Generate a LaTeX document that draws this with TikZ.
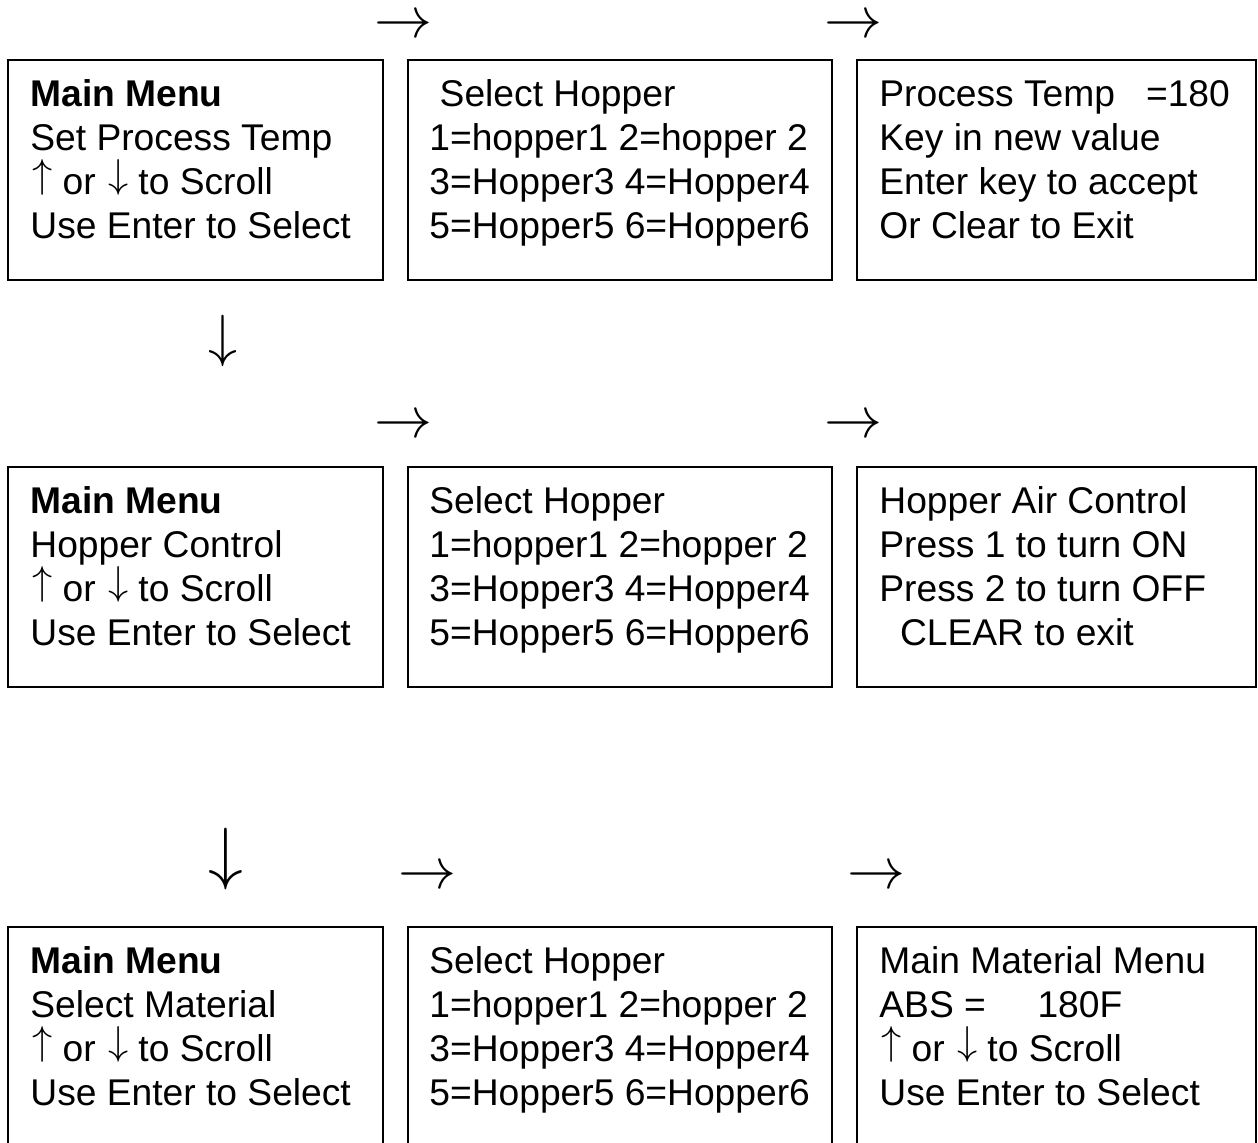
\documentclass[tikz,border=0pt]{standalone}
\usepackage{fontspec}
\setmainfont{Liberation Sans}
\usepackage{xcolor}

\newcommand{\lcdlines}[1]{\begin{tabular}[t]{@{}l@{}}#1\end{tabular}}
\newcommand{\lcdarrow}[1]{\makebox[11pt][l]{\kern1pt\raisebox{3.1pt}[11pt][0pt]{\resizebox{!}{14pt}{$#1$}}}}

\begin{document}
\begin{tikzpicture}[x=0.5pt,y=-0.5pt,
        screen/.style={draw, line width=0.8pt, inner sep=0pt, outer sep=0pt,
                       anchor=north west, minimum height=110pt},
        lcd/.style={anchor=base west, inner sep=0pt,
                    font=\fontsize{18.6}{22}\selectfont},
        glyph/.style={inner sep=0pt, scale=2.9},
        rglyph/.style={glyph, text height=0.5em, text depth=0pt}]
                \useasboundingbox (0,0) rectangle (1258,1142);

                % first row: set process temp
                \node[screen, minimum width=187.5pt] (menu1) at (8,60) {};
                \node[screen, minimum width=212pt]   (hop1)  at (408,60) {};
                \node[screen, minimum width=199.5pt] (temp)  at (857,60) {};

                \node[lcd] (menu1txt) at ([shift={(22,46)}]menu1.north west)
                    {\lcdlines{\textbf{Main Menu}\\Set Process Temp\\\lcdarrow{\uparrow} or \lcdarrow{\downarrow} to Scroll\\Use Enter to Select}};
                \node[lcd] (hop1txt) at ([shift={(21,46)}]hop1.north west)
                    {\lcdlines{\ Select Hopper\\1=hopper1 2=hopper 2\\3=Hopper3 4=Hopper4\\5=Hopper5 6=Hopper6}};
                \node[lcd] (temptxt) at ([shift={(22,46)}]temp.north west)
                    {\lcdlines{Process Temp \ \ =180\\Key in new value\\Enter key to accept\\Or Clear to Exit}};

                % second row: hopper control
                \node[screen, minimum width=187.5pt] (menu2) at (8,467) {};
                \node[screen, minimum width=212pt]   (hop2)  at (408,467) {};
                \node[screen, minimum width=199.5pt] (air)   at (857,467) {};

                \node[lcd] (menu2txt) at ([shift={(22,46)}]menu2.north west)
                    {\lcdlines{\textbf{Main Menu}\\Hopper Control\\\lcdarrow{\uparrow} or \lcdarrow{\downarrow} to Scroll\\Use Enter to Select}};
                \node[lcd] (hop2txt) at ([shift={(21,46)}]hop2.north west)
                    {\lcdlines{Select Hopper\\1=hopper1 2=hopper 2\\3=Hopper3 4=Hopper4\\5=Hopper5 6=Hopper6}};
                \node[lcd] (airtxt) at ([shift={(22,46)}]air.north west)
                    {\lcdlines{Hopper Air Control\\Press 1 to turn ON\\Press 2 to turn OFF\\\ \ CLEAR to exit}};

                % third row: select material
                \node[screen, minimum width=187.5pt] (menu3) at (8,927) {};
                \node[screen, minimum width=212pt]   (hop3)  at (408,927) {};
                \node[screen, minimum width=199.5pt] (mat)   at (857,927) {};

                \node[lcd] (menu3txt) at ([shift={(22,46)}]menu3.north west)
                    {\lcdlines{\textbf{Main Menu}\\Select Material\\\lcdarrow{\uparrow} or \lcdarrow{\downarrow} to Scroll\\Use Enter to Select}};
                \node[lcd] (hop3txt) at ([shift={(21,46)}]hop3.north west)
                    {\lcdlines{Select Hopper\\1=hopper1 2=hopper 2\\3=Hopper3 4=Hopper4\\5=Hopper5 6=Hopper6}};
                \node[lcd] (mattxt) at ([shift={(22,46)}]mat.north west)
                    {\lcdlines{Main Material Menu\\ABS = \ \ \ \ 180F\\\lcdarrow{\uparrow} or \lcdarrow{\downarrow} to Scroll\\Use Enter to Select}};

                % arrow glyphs
                \node[rglyph] (r1a) at (403,23)  {$\rightarrow$};
                \node[rglyph] (r1b) at (853,23)  {$\rightarrow$};
                \node[glyph]  (d1)  at (223,341) {$\downarrow$};
                \node[rglyph] (r2a) at (403,423) {$\rightarrow$};
                \node[rglyph] (r2b) at (853,423) {$\rightarrow$};
                \node[glyph, scale=1.2] (d2) at (226,859) {$\downarrow$};
                \node[rglyph] (r3a) at (427,874) {$\rightarrow$};
                \node[rglyph] (r3b) at (876,874) {$\rightarrow$};
            \end{tikzpicture}
\end{document}
